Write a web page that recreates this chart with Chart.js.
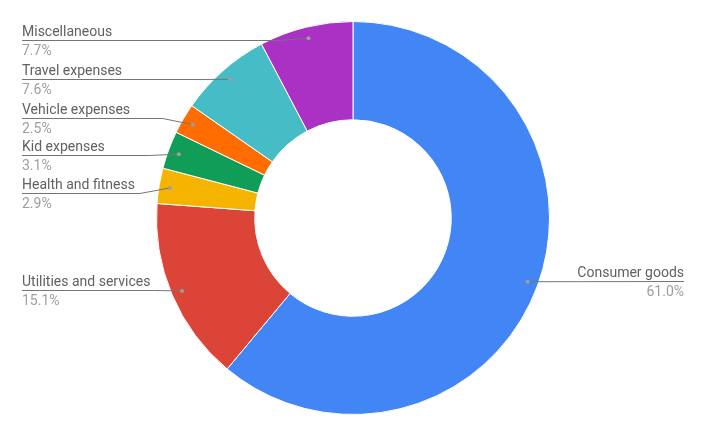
<!DOCTYPE html>
<html>
<head>
<meta charset="utf-8">
<script src="https://cdn.jsdelivr.net/npm/chart.js@4/dist/chart.umd.min.js"></script>
<style>
  html, body { margin: 0; padding: 0; background: #fff; }
  #wrap { width: 706px; height: 436px; }
</style>
</head>
<body>
<div id="wrap"><canvas id="pie"></canvas></div>
<script>
const categories = [
  "Consumer goods",
  "Utilities and services",
  "Health and fitness",
  "Kid expenses",
  "Vehicle expenses",
  "Travel expenses",
  "Miscellaneous",
];
const shares = [61.0, 15.1, 2.9, 3.1, 2.5, 7.6, 7.7];
const colors = ["#4285f4", "#db4437", "#f4b400", "#0f9d58", "#ff6d00", "#46bdc6", "#ab30c4"];

// draws the labels with leader lines, google-charts style
const sideLabels = {
  id: "sideLabels",
  afterDraw(chart) {
    const ctx = chart.ctx;
    const arcs = chart.getDatasetMeta(0).data;
    const left = [];
    const right = [];

    arcs.forEach((arc, i) => {
      const p = arc.getProps(["x", "y", "startAngle", "endAngle", "innerRadius", "outerRadius"], true);
      const mid = (p.startAngle + p.endAngle) / 2;
      const r = p.innerRadius + (p.outerRadius - p.innerRadius) * 0.89;
      const dx = p.x + Math.cos(mid) * r;
      const dy = p.y + Math.sin(mid) * r;
      const item = { i, dx, dy, ly: dy };
      if (dx > p.x) right.push(item);
      else left.push(item);
    });

    // spread left labels so they don't overlap
    left.sort((a, b) => a.dy - b.dy);
    const gap = 37.5;
    for (let k = 0; k < 300; k++) {
      left.forEach((it) => (it.ly = Math.max(it.ly, 40)));
      for (let j = 1; j < left.length; j++) {
        const d = left[j].ly - left[j - 1].ly;
        if (d < gap) {
          const push = (gap - d) / 2 + 0.01;
          left[j].ly += push;
          left[j - 1].ly -= push;
        }
      }
    }

    ctx.save();
    ctx.font = "14px Roboto";
    ctx.textBaseline = "alphabetic";

    const drawOne = (it, side) => {
      const name = categories[it.i];
      const pct = shares[it.i].toFixed(1) + "%";
      const tx = side === "left" ? 22 : 684;
      const ly = Math.round(it.ly);
      const tw = ctx.measureText(name).width;

      ctx.strokeStyle = "#757575";
      ctx.lineWidth = 1;
      ctx.beginPath();
      ctx.moveTo(tx, ly + 0.5);
      if (side === "left") {
        const knee = Math.max(tx + tw + 4, it.dx - 30);
        if (knee < it.dx) ctx.lineTo(knee, ly + 0.5);
      }
      ctx.lineTo(it.dx, it.dy + 0.5);
      ctx.stroke();

      ctx.fillStyle = "#9e9e9e";
      ctx.beginPath();
      ctx.arc(it.dx, it.dy + 0.5, 2, 0, Math.PI * 2);
      ctx.fill();

      ctx.textAlign = side === "left" ? "left" : "right";
      ctx.fillStyle = "#616161";
      ctx.fillText(name, tx, ly - 4);
      ctx.fillStyle = "#9e9e9e";
      ctx.fillText(pct, tx, ly + 15);
    };

    left.forEach((it) => drawOne(it, "left"));
    right.forEach((it) => drawOne(it, "right"));
    ctx.restore();
  },
};

new Chart(document.getElementById("pie"), {
  type: "doughnut",
  data: {
    labels: categories,
    datasets: [
      {
        data: shares,
        backgroundColor: colors,
        borderColor: "#ffffff",
        borderWidth: 1,
      },
    ],
  },
  options: {
    responsive: true,
    maintainAspectRatio: false,
    animation: false,
    cutout: "50%",
    layout: { padding: { top: 21, bottom: 21, left: 0, right: 0 } },
    plugins: {
      legend: { display: false },
      tooltip: { enabled: false },
    },
  },
  plugins: [sideLabels],
});
</script>
</body>
</html>
